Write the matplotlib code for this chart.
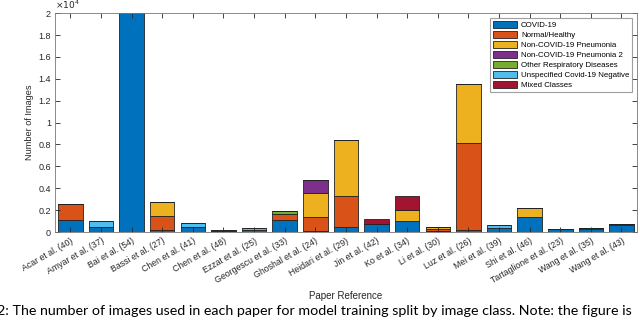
import numpy as np
import matplotlib
matplotlib.use("Agg")
import matplotlib.pyplot as plt

plt.rcParams['font.family'] = ['Liberation Sans', 'DejaVu Sans']

papers = ["Acar et al. (40)", "Amyar et al. (37)", "Bai et al. (54)", "Bassi et al. (27)",
          "Chen et al. (41)", "Chen et al. (48)", "Ezzat et al. (25)", "Georgescu et al. (33)",
          "Ghoshal et al. (24)", "Heidari et al. (29)", "Jin et al. (42)", "Ko et al. (34)",
          "Li et al. (30)", "Luz et al. (26)", "Mei et al. (39)", "Shi et al. (46)",
          "Tartaglione et al. (23)", "Wang et al. (35)", "Wang et al. (43)"]

# images per class
covid      = [1100, 450, 21000, 200, 450, 100, 200, 1100, 100, 450, 700, 1000, 100, 200, 330, 1370, 250, 260, 600]
normal     = [1500, 0, 0, 1250, 0, 0, 0, 570, 1300, 2850, 0, 0, 150, 7900, 0, 0, 0, 0, 0]
pneumonia  = [0, 0, 0, 1300, 0, 0, 0, 0, 2150, 5150, 0, 1000, 200, 5400, 0, 790, 0, 130, 150]
pneumonia2 = [0, 0, 0, 0, 0, 0, 0, 0, 1200, 0, 0, 0, 0, 0, 0, 0, 0, 0, 0]
other_resp = [0, 0, 0, 0, 0, 0, 0, 270, 0, 0, 0, 0, 0, 0, 0, 0, 0, 0, 0]
unspec_neg = [0, 550, 0, 0, 370, 50, 200, 0, 0, 0, 0, 0, 0, 0, 340, 0, 0, 0, 0]
mixed      = [0, 0, 0, 0, 0, 0, 0, 0, 0, 0, 450, 1250, 0, 0, 0, 0, 0, 0, 0]

classes = ["COVID-19", "Normal/Healthy", "Non-COVID-19 Pneumonia", "Non-COVID-19 Pneumonia 2",
           "Other Respiratory Diseases", "Unspecified Covid-19 Negative", "Mixed Classes"]
colors = ["#0072BD", "#D95319", "#EDB120", "#7E2F8E", "#77AC30", "#4DBEEE", "#A2142F"]

fig = plt.figure(figsize=(6.4, 3.2), dpi=100)
ax = fig.add_axes([0.086, 0.275, 0.909, 0.684])

x = np.arange(1, len(papers) + 1)
bottom = np.zeros(len(papers))
for vals, lab, col in zip([covid, normal, pneumonia, pneumonia2, other_resp, unspec_neg, mixed], classes, colors):
    vals = np.array(vals, dtype=float)
    ax.bar(x, vals, 0.8, bottom=bottom, color=col, edgecolor="#222222", linewidth=0.6, label=lab)
    bottom += vals

ax.set_xlim(0.5, len(papers) + 0.5)
ax.set_ylim(0, 20000)
ax.set_xticks(x)
ax.set_xticklabels(papers, rotation=30, ha="right", rotation_mode="anchor", fontsize=6.3, color="#262626")
yt = np.arange(0, 20001, 2000)
ax.set_yticks(yt)
ax.set_yticklabels(["0", "0.2", "0.4", "0.6", "0.8", "1", "1.2", "1.4", "1.6", "1.8", "2"], fontsize=6.5, color="#262626")
ax.tick_params(direction="in", length=3.5, width=0.6, top=True, right=True, color="#262626", pad=3)
for s in ax.spines.values():
    s.set_color("#777777")
    s.set_linewidth(0.6)

ax.text(0.0, 1.01, r"$\times10^4$", transform=ax.transAxes, fontsize=6.5, color="#262626", va="bottom", ha="left")
ax.set_ylabel("Number of Images", fontsize=6.6, color="#262626", labelpad=3)
ax.set_xlabel("Paper Reference", fontsize=7, color="#262626", labelpad=4)

leg = ax.legend(loc="upper right", fontsize=5.7, frameon=True, fancybox=False, borderaxespad=0.6,
                handlelength=3.0, handleheight=1.0, labelspacing=0.22, borderpad=0.35, handletextpad=0.5)
leg.get_frame().set_edgecolor("#888888")
leg.get_frame().set_linewidth(0.8)

fig.text(-0.004, 1 - 305 / 320, "2: The number of images used in each paper for model training split by image class. Note: the figure is",
         fontsize=10.3, family=["Lato", "DejaVu Sans"], va="top", ha="left", color="black")

fig.savefig("out.png", dpi=100)
